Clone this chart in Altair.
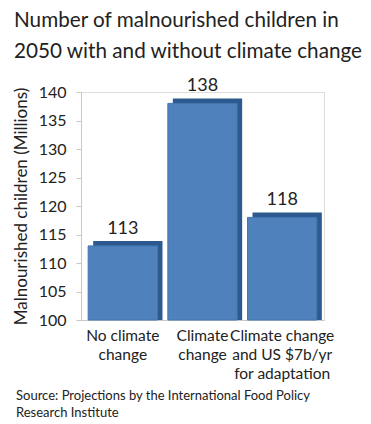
import altair as alt
import pandas as pd

categories = ["No climate|change", "Climate|change", "Climate change|and US $7b/yr|for adaptation"]
values = [113, 138, 118]
y_ticks = [100, 105, 110, 115, 120, 125, 130, 135, 140]
title_lines = ["Number of malnourished children in", "2050 with and without climate change"]
y_title = "Malnourished children (Millions)"
source_lines = ["Source: Projections by the International Food Policy", "Research Institute"]

df = pd.DataFrame({"cat": categories, "val": values, "base": [100] * len(values)})

FONT = "Lato"
x_enc = alt.X("cat:N", sort=categories, title=None,
              scale=alt.Scale(paddingInner=0.13, paddingOuter=0.09),
              axis=alt.Axis(labelExpr="split(datum.label, '|')", labelAngle=0, labelFontSize=15.5,
                            labelFont=FONT, labelColor="#222", labelLineHeight=19, labelPadding=8,
                            domainColor="#c8c8c8", ticks=False, labelOverlap=False))
y_enc = alt.Y("val:Q", title=y_title,
              scale=alt.Scale(domain=[100, 140], nice=False, zero=False),
              axis=alt.Axis(values=y_ticks, grid=False, labelFontSize=16, labelFont=FONT,
                            labelColor="#222", titleFontSize=17, titleFont=FONT,
                            titleFontWeight="normal", titleColor="#222", domainColor="#c8c8c8",
                            tickColor="#c8c8c8", tickSize=5, labelPadding=10, titlePadding=8))

base = alt.Chart(df)
side = base.mark_bar(color="#2D5A8E", xOffset=5, yOffset=-5, clip=False).encode(
    x=x_enc, y=y_enc, y2="base:Q")
front = base.mark_bar(color="#4F81BD", stroke="#4475B0", strokeWidth=1).encode(
    x=x_enc, y=y_enc, y2="base:Q")
labels = base.mark_text(dy=-17, fontSize=18, font=FONT, color="#222").encode(
    x=x_enc, y=y_enc, text="val:Q")
source = alt.Chart(pd.DataFrame({"t": [source_lines]})).mark_text(
    align="left", baseline="middle", fontSize=13, font=FONT, color="#222", lineHeight=16.5
).encode(x=alt.value(-65), y=alt.value(304), text="t")

chart = alt.layer(side, front, labels, source).properties(
    width=243, height=228,
    autosize=alt.AutoSizeParams(type="none"),
    padding={"left": 73, "top": 84, "right": 39, "bottom": 100},
    title=alt.TitleParams(title_lines, anchor="start", font=FONT, fontSize=20.7, fontWeight="normal",
                          color="#222", lineHeight=31, offset=15, frame="group", dx=-67),
).configure_view(stroke=None).configure(background="white")

chart.save("out.html", embed_options={"renderer": "svg", "actions": False})
